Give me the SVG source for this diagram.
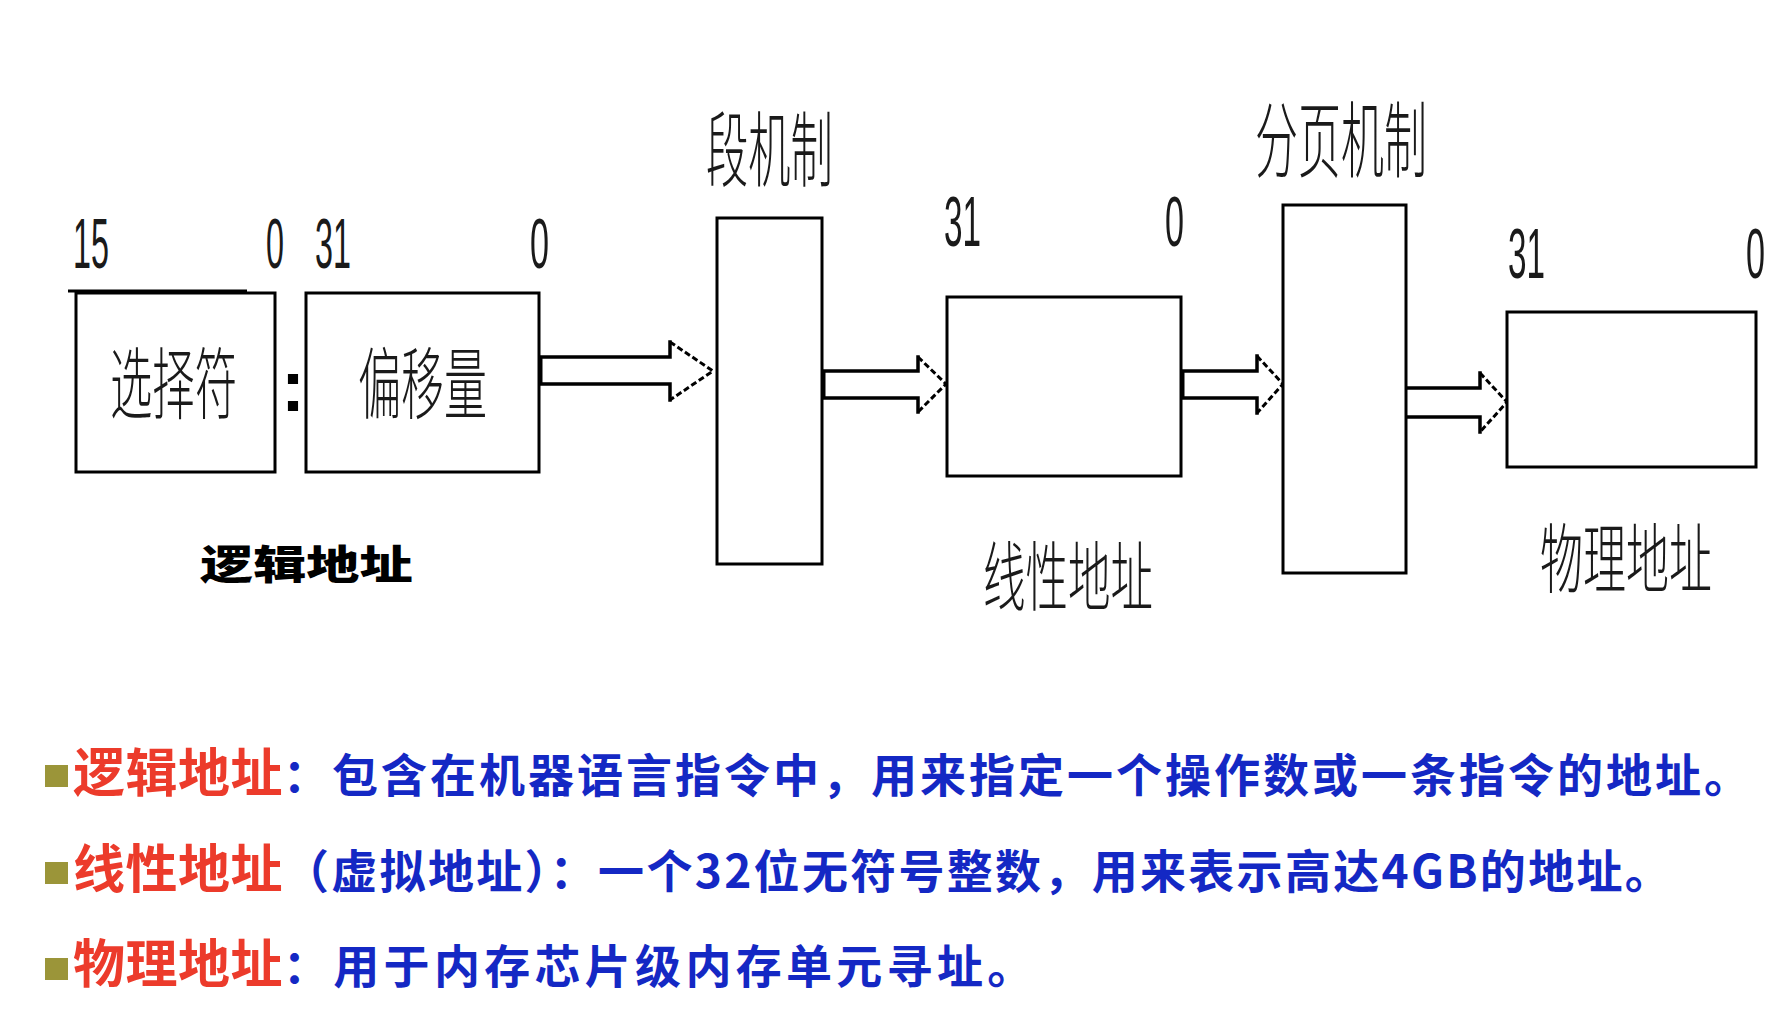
<svg xmlns="http://www.w3.org/2000/svg" width="1788" height="1028" viewBox="0 0 1788 1028">
<style>
.box{fill:#fff;stroke:#000;stroke-width:3}
.shaft{fill:none;stroke:#000;stroke-width:3.5;stroke-linecap:square}
.head{fill:none;stroke:#000;stroke-width:3;stroke-dasharray:6 3}
.cap{stroke:#000;stroke-width:5}
.num{font-family:"Liberation Sans",Arial,sans-serif;font-size:70px;fill:#1a1a1a}
.lbl{font-family:"Noto Sans CJK SC","Noto Sans",sans-serif;font-weight:300;fill:#1a1a1a}
.bold{font-family:"Noto Sans CJK SC",sans-serif;font-weight:900;font-size:40px;fill:#000}
.desc{font-family:"Noto Sans CJK SC",sans-serif;font-weight:700}
.red{fill:#ec3b2b;font-size:52px;letter-spacing:0.5px}
.blue{fill:#1428c4;font-size:46px}
.bullet{fill:#9b9539}
</style>
<rect width="1788" height="1028" fill="#fff"/>

<g id="connectors">
  <g id="arrow-offset-seg">
    <polygon points="539,357 670,357 670,342 713,371 670,400 670,384 539,384" fill="#fff"/>
    <polyline class="shaft" points="539,357 670,357 670,342"/>
    <polyline class="shaft" points="539,384 670,384 670,400"/>
    <polyline class="head" points="670,342 713,371 670,400"/>
    <line class="cap" x1="540" y1="357" x2="540" y2="384"/>
  </g>
  <g id="arrow-seg-linear">
    <polygon points="822,371 918,371 918,357 946,384 918,412 918,398 822,398" fill="#fff"/>
    <polyline class="shaft" points="822,371 918,371 918,357"/>
    <polyline class="shaft" points="822,398 918,398 918,412"/>
    <polyline class="head" points="918,357 946,384 918,412"/>
    <line class="cap" x1="823" y1="371" x2="823" y2="398"/>
  </g>
  <g id="arrow-linear-page">
    <polygon points="1181,371 1257,371 1257,356 1283,384 1257,413 1257,398 1181,398" fill="#fff"/>
    <polyline class="shaft" points="1181,371 1257,371 1257,356"/>
    <polyline class="shaft" points="1181,398 1257,398 1257,413"/>
    <polyline class="head" points="1257,356 1283,384 1257,413"/>
    <line class="cap" x1="1182" y1="371" x2="1182" y2="398"/>
  </g>
  <g id="arrow-page-phys">
    <polygon points="1406,388 1480,388 1480,373 1507,402 1480,432 1480,417 1406,417" fill="#fff"/>
    <polyline class="shaft" points="1406,388 1480,388 1480,373"/>
    <polyline class="shaft" points="1406,417 1480,417 1480,432"/>
    <polyline class="head" points="1480,373 1507,402 1480,432"/>
  </g>
</g>

<g id="selector">
  <line x1="68" y1="291" x2="247" y2="291" stroke="#000" stroke-width="3"/>
  <rect class="box" x="76" y="293" width="199" height="179"/>
  <text class="lbl" transform="translate(110,413) scale(0.543,1)" font-size="78">选择符</text>
  <text class="num" x="73" y="268" textLength="36" lengthAdjust="spacingAndGlyphs">15</text>
  <text class="num" x="266" y="268" textLength="18" lengthAdjust="spacingAndGlyphs">0</text>
</g>

<text id="colon" x="293" y="411" font-family="Liberation Sans,Arial,sans-serif" font-size="72" font-weight="700" text-anchor="middle" fill="#000">:</text>

<g id="offset">
  <rect class="box" x="306" y="293" width="233" height="179"/>
  <text class="lbl" transform="translate(358,413) scale(0.551,1)" font-size="78">偏移量</text>
  <text class="num" x="315" y="268" textLength="36" lengthAdjust="spacingAndGlyphs">31</text>
  <text class="num" x="530" y="268" textLength="19" lengthAdjust="spacingAndGlyphs">0</text>
</g>

<g id="logical-label">
  <text class="bold" transform="translate(200,579) scale(1.33,1)">逻辑地址</text>
</g>

<g id="segmentation">
  <rect class="box" x="717" y="218" width="105" height="346"/>
  <text class="lbl" transform="translate(706,180) scale(0.516,1)" font-size="82">段机制</text>
</g>

<g id="linear">
  <rect class="box" x="947" y="297" width="234" height="179"/>
  <text class="num" x="944" y="246" textLength="37" lengthAdjust="spacingAndGlyphs">31</text>
  <text class="num" x="1165" y="246" textLength="19" lengthAdjust="spacingAndGlyphs">0</text>
  <text class="lbl" transform="translate(983,605) scale(0.559,1)" font-size="76">线性地址</text>
</g>

<g id="paging">
  <rect class="box" x="1283" y="205" width="123" height="368"/>
  <text class="lbl" transform="translate(1255,171) scale(0.518,1)" font-size="83">分页机制</text>
</g>

<g id="physical">
  <rect class="box" x="1507" y="312" width="249" height="155"/>
  <text class="num" x="1508" y="278" textLength="37" lengthAdjust="spacingAndGlyphs">31</text>
  <text class="num" x="1746" y="278" textLength="19" lengthAdjust="spacingAndGlyphs">0</text>
  <text class="lbl" transform="translate(1540,587) scale(0.566,1)" font-size="76">物理地址</text>
</g>

<g id="notes">
  <rect class="bullet" x="45" y="765" width="23" height="22"/>
  <text class="desc" x="73" y="792"><tspan class="red">逻辑地址</tspan><tspan class="blue" letter-spacing="3">：包含在机器语言指令中，用来指定一个操作数或一条指令的地址。</tspan></text>
  <rect class="bullet" x="45" y="862" width="23" height="22"/>
  <text class="desc" x="73" y="888"><tspan class="red">线性地址</tspan><tspan class="blue" letter-spacing="2.3">（虚拟地址）：一个32位无符号整数，用来表示高达4GB的地址。</tspan></text>
  <rect class="bullet" x="45" y="958" width="23" height="22"/>
  <text class="desc" x="73" y="983"><tspan class="red">物理地址</tspan><tspan class="blue" letter-spacing="4.3">：用于内存芯片级内存单元寻址。</tspan></text>
</g>
</svg>
